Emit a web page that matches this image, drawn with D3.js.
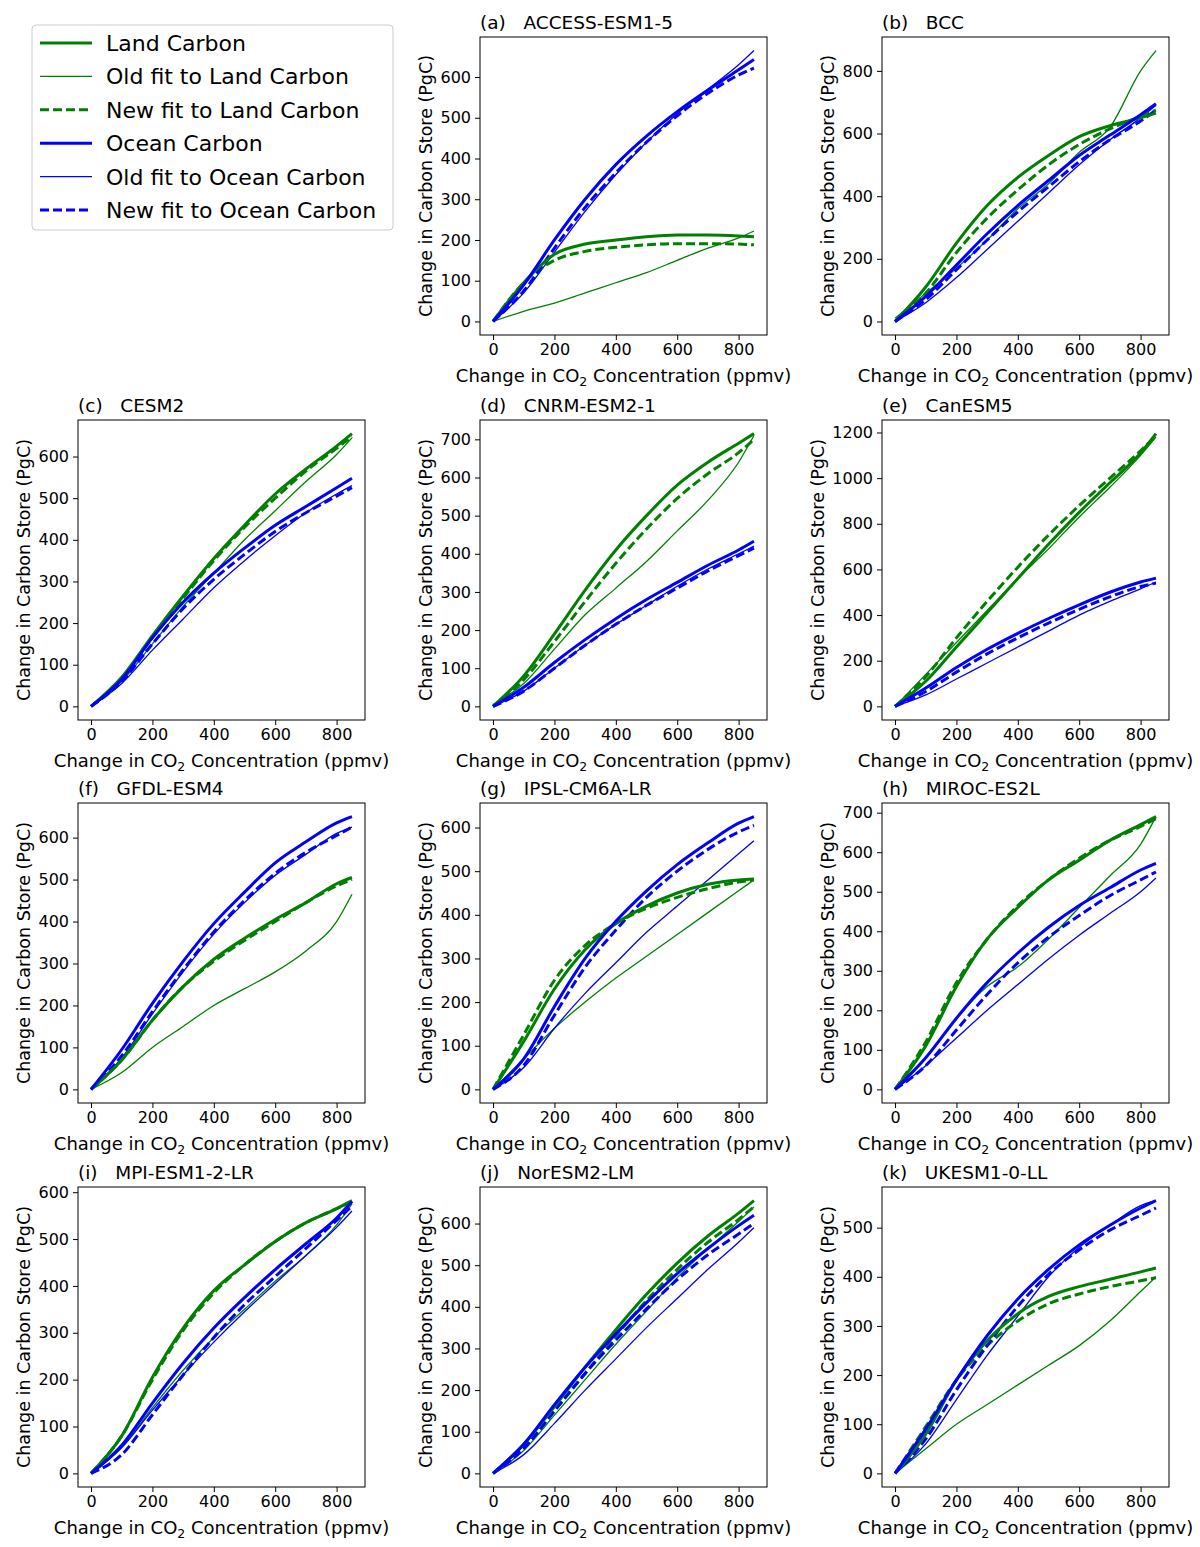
<!DOCTYPE html>
<html><head><meta charset="utf-8">
<script src="https://cdn.jsdelivr.net/npm/d3@7"></script>
<style>body{margin:0;background:#fff}text{font-family:"DejaVu Sans",sans-serif}</style>
</head><body><svg id="c" width="1200" height="1547"></svg>
<script>
const xs=[0,100,200,300,400,500,600,700,800,850];
const panelNames=["(a)   ACCESS-ESM1-5","(b)   BCC","(c)   CESM2","(d)   CNRM-ESM2-1","(e)   CanESM5","(f)   GFDL-ESM4","(g)   IPSL-CM6A-LR","(h)   MIROC-ES2L","(i)   MPI-ESM1-2-LR","(j)   NorESM2-LM","(k)   UKESM1-0-LL"];
const yTickSteps=[100,200,100,100,200,100,100,100,100,100,100];
const seriesNames=["Land Carbon","Old fit to Land Carbon","New fit to Land Carbon","Ocean Carbon","Old fit to Ocean Carbon","New fit to Ocean Carbon"];
// each panel: [land, oldLand, newLand, ocean, oldOcean, newOcean]
const landA=[0,95,165,190,200,208,212,212,210,208],oldLandA=[0,25,45,70,95,120,150,180,205,222],newLandA=[0,95,150,172,182,188,191,191,190,188],oceanA=[0,90,200,300,385,455,515,568,618,643],oldOceanA=[0,70,170,270,360,440,510,570,630,665],newOceanA=[0,75,180,280,365,440,505,560,605,622];
const landB=[0,110,250,370,460,530,590,625,650,665],oldLandB=[10,90,170,260,360,440,540,620,800,865],newLandB=[0,90,220,330,420,500,565,615,655,675],oceanB=[0,80,180,280,370,450,530,595,660,695],oldOceanB=[0,60,140,230,320,410,500,580,650,690],newOceanB=[0,70,165,260,350,430,510,580,640,675];
const landC=[0,70,170,265,355,435,510,570,625,655],oldLandC=[0,60,150,240,320,400,470,540,605,645],newLandC=[0,65,165,260,350,430,500,565,620,648],oceanC=[0,65,165,250,320,380,435,480,525,548],oldOceanC=[0,55,135,210,285,350,410,465,510,530],newOceanC=[0,60,150,235,305,365,420,465,505,525];
const landD=[0,80,190,305,410,500,580,640,690,715],oldLandD=[5,60,150,240,310,380,460,540,640,710],newLandD=[0,70,170,275,375,465,545,610,665,700],oceanD=[0,50,115,175,230,280,325,370,410,433],oldOceanD=[0,40,100,160,215,265,315,360,400,420],newOceanD=[0,40,100,160,215,265,310,355,395,415];
const landE=[0,110,260,410,560,710,850,980,1110,1195],oldLandE=[0,140,280,420,560,690,830,960,1100,1180],newLandE=[0,130,300,460,610,750,880,1000,1120,1185],oceanE=[0,80,170,250,320,385,445,500,545,562],oldOceanE=[0,50,120,190,260,330,400,460,515,545],newOceanE=[0,65,150,230,300,365,425,480,525,540];
const landF=[0,70,165,245,310,360,405,445,490,505],oldLandF=[0,40,100,150,200,240,280,330,400,465],newLandF=[0,70,165,245,305,355,400,445,485,500],oceanF=[0,95,205,305,395,470,540,590,635,650],oldOceanF=[0,75,180,280,370,445,510,560,610,625],newOceanF=[0,80,185,285,375,450,515,565,605,625];
const landG=[0,110,230,320,380,420,450,470,480,482],oldLandG=[0,70,140,200,255,305,355,405,455,480],newLandG=[0,125,250,330,380,415,440,460,475,480],oceanG=[0,70,190,300,385,455,515,565,610,625],oldOceanG=[0,50,140,220,290,360,420,480,540,570],newOceanG=[0,55,170,280,365,440,500,550,590,605];
const landH=[0,110,260,380,460,530,580,630,670,690],oldLandH=[5,80,180,260,310,380,460,540,620,690],newLandH=[0,120,270,380,465,530,585,630,665,685],oceanH=[0,80,180,270,345,410,465,510,555,572],oldOceanH=[0,60,130,200,265,330,390,445,500,535],newOceanH=[0,60,150,240,320,385,440,490,530,550];
const landI=[0,80,205,310,390,445,495,535,565,582],oldLandI=[0,55,140,220,290,350,410,465,530,575],newLandI=[0,80,200,305,385,445,495,535,565,580],oceanI=[0,60,150,235,310,375,435,490,545,580],oldOceanI=[0,55,135,210,280,345,405,465,525,560],newOceanI=[0,40,125,210,290,360,420,480,540,570];
const landJ=[0,70,160,255,345,430,505,570,625,655],oldLandJ=[0,55,140,225,310,390,470,540,605,640],newLandJ=[0,60,150,240,330,415,490,555,610,640],oceanJ=[0,70,165,255,335,410,480,540,595,620],oldOceanJ=[0,45,120,200,275,350,420,490,555,590],newOceanJ=[0,60,150,240,320,395,465,525,575,600];
const landK=[0,80,190,270,325,360,380,395,410,418],oldLandK=[0,50,100,140,180,220,260,310,370,400],newLandK=[0,95,190,260,310,345,365,380,392,398],oceanK=[0,90,190,280,355,415,465,505,540,555],oldOceanK=[0,60,150,240,320,400,460,505,545,555],newOceanK=[0,70,170,260,340,405,455,495,525,540];
const panels=[
[landA,oldLandA,newLandA,oceanA,oldOceanA,newOceanA],[landB,oldLandB,newLandB,oceanB,oldOceanB,newOceanB],
[landC,oldLandC,newLandC,oceanC,oldOceanC,newOceanC],[landD,oldLandD,newLandD,oceanD,oldOceanD,newOceanD],
[landE,oldLandE,newLandE,oceanE,oldOceanE,newOceanE],[landF,oldLandF,newLandF,oceanF,oldOceanF,newOceanF],
[landG,oldLandG,newLandG,oceanG,oldOceanG,newOceanG],[landH,oldLandH,newLandH,oceanH,oldOceanH,newOceanH],
[landI,oldLandI,newLandI,oceanI,oldOceanI,newOceanI],[landJ,oldLandJ,newLandJ,oceanJ,oldOceanJ,newOceanJ],
[landK,oldLandK,newLandK,oceanK,oldOceanK,newOceanK]];
const xTicks=[0,200,400,600,800];

const styles=[{c:"#008000",w:3,d:null},{c:"#008000",w:1.3,d:null},{c:"#008000",w:3,d:"9,4"},
{c:"#0000ff",w:3,d:null},{c:"#0000ff",w:1.3,d:null},{c:"#0000ff",w:3,d:"9,4"}];
const svg=d3.select("#c");
const cols=[[78,365],[480,767],[882,1169]];
const rows=[[37,335],[420,720],[803,1103],[1187,1487]];
const pos=[[0,1],[0,2],[1,0],[1,1],[1,2],[2,0],[2,1],[2,2],[3,0],[3,1],[3,2]];
const TF=16;

panels.forEach((p,i)=>{
  const [r,c]=pos[i];
  const x=d3.scaleLinear().domain([-42.5,892.5]).range(cols[c]);
  const all=p.flat(); const mn=d3.min(all),mx=d3.max(all),m=(mx-mn)*0.05;
  const y=d3.scaleLinear().domain([mn-m,mx+m]).range([rows[r][1],rows[r][0]]);
  const g=svg.append("g");
  const yt=d3.range(0,mx+m,yTickSteps[i]);
  g.append("g").attr("transform",`translate(0,${rows[r][1]})`).call(d3.axisBottom(x).tickValues(xTicks).tickSize(5).tickPadding(4))
   .call(a=>{a.select(".domain").remove();a.selectAll("text").attr("font-size",TF).attr("fill","#000").style("font-family","DejaVu Sans");a.selectAll("line").attr("stroke","#000")});
  const ya=g.append("g").attr("transform",`translate(${cols[c][0]},0)`).call(d3.axisLeft(y).tickValues(yt).tickFormat(d3.format("d")).tickSize(5).tickPadding(4))
   .call(a=>{a.select(".domain").remove();a.selectAll("text").attr("font-size",TF).attr("fill","#000").style("font-family","DejaVu Sans");a.selectAll("line").attr("stroke","#000")});
  let tw=0; ya.selectAll("text").each(function(){tw=Math.max(tw,this.getBBox().width)});
  const clipId="cl"+i;
  g.append("clipPath").attr("id",clipId).append("rect").attr("x",cols[c][0]).attr("y",rows[r][0]).attr("width",cols[c][1]-cols[c][0]).attr("height",rows[r][1]-rows[r][0]);
  const line=d3.line().x((d,j)=>x(xs[j])).y(d=>y(d)).curve(d3.curveMonotoneX);
  [1,4,2,5,0,3].forEach(k=>{
    const s=styles[k];
    g.append("path").attr("d",line(p[k])).attr("fill","none").attr("stroke",s.c).attr("stroke-width",s.w).attr("stroke-dasharray",s.d).attr("clip-path",`url(#${clipId})`);
  });
  g.append("rect").attr("x",cols[c][0]).attr("y",rows[r][0]).attr("width",cols[c][1]-cols[c][0]).attr("height",rows[r][1]-rows[r][0]).attr("fill","none").attr("stroke","#000").attr("stroke-width",1);
  g.append("text").attr("x",cols[c][0]).attr("y",rows[r][0]-8).attr("font-size",18.5).attr("xml:space","preserve").style("white-space","pre").text(panelNames[i]);
  const xl=g.append("text").attr("x",(cols[c][0]+cols[c][1])/2).attr("y",rows[r][1]+47).attr("text-anchor","middle").attr("font-size",18);
  xl.append("tspan").text("Change in CO");xl.append("tspan").attr("font-size",12.5).attr("dy",4).text("2");xl.append("tspan").attr("dy",-4).text(" Concentration (ppmv)");
  g.append("text").attr("transform",`translate(${cols[c][0]-tw-17},${(rows[r][0]+rows[r][1])/2}) rotate(-90)`).attr("text-anchor","middle").attr("font-size",17.5).text("Change in Carbon Store (PgC)");
});
// legend
const lg=svg.append("g");
lg.append("rect").attr("x",32).attr("y",25).attr("width",361).attr("height",205).attr("rx",4).attr("fill","#fff").attr("stroke","#ccc");
seriesNames.forEach((n,k)=>{
  const yy=43+k*33.4,s=styles[k];
  lg.append("line").attr("x1",40).attr("x2",92).attr("y1",yy).attr("y2",yy).attr("stroke",s.c).attr("stroke-width",s.w).attr("stroke-dasharray",s.d);
  lg.append("text").attr("x",106).attr("y",yy+8).attr("font-size",22).text(n);
});
</script></body></html>
